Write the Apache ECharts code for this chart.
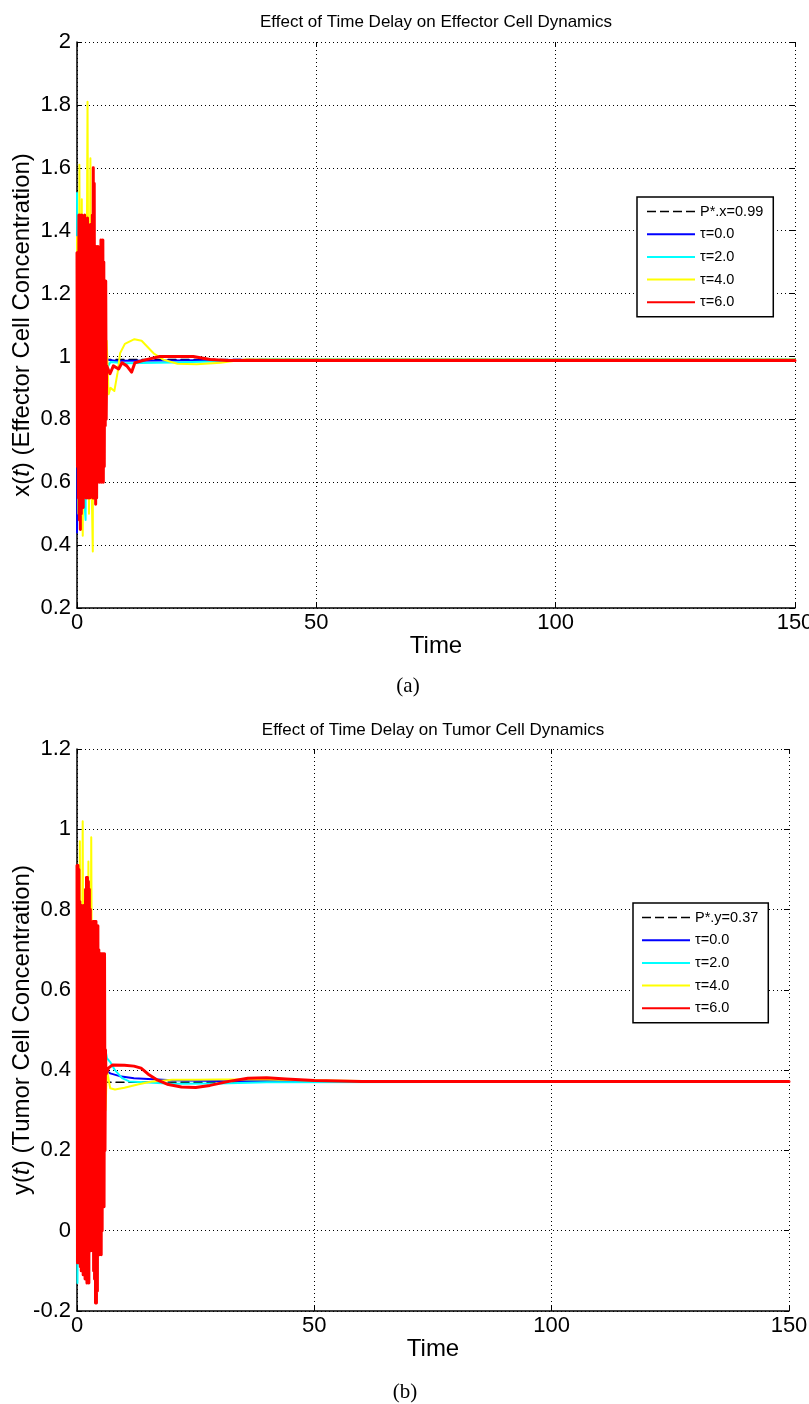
<!DOCTYPE html>
<html><head><meta charset="utf-8">
<script src="https://cdn.jsdelivr.net/npm/echarts@6/dist/echarts.min.js"></script>
<style>html,body{margin:0;padding:0;background:#fff}#c{width:809px;height:1404px}</style>
</head><body><div id="c"></div>
<script>
// ---------- text ----------
const titleA = 'Effect of Time Delay on Effector Cell Dynamics';
const titleB = 'Effect of Time Delay on Tumor Cell Dynamics';
const namesA = ['P*.x=0.99', 'τ=0.0', 'τ=2.0', 'τ=4.0', 'τ=6.0'];
const namesB = ['P*.y=0.37', 'τ=0.0', 'τ=2.0', 'τ=4.0', 'τ=6.0'];
const colors = ['#000000', '#0000ff', '#00ffff', '#ffff00', '#ff0000'];
const timeTicks = [0, 50, 100, 150];
const xTicksA = [0.2, 0.4, 0.6, 0.8, 1, 1.2, 1.4, 1.6, 1.8, 2];
const yTicksB = [-0.2, 0, 0.2, 0.4, 0.6, 0.8, 1, 1.2];

// ---------- panel (a): x(t) ----------
const eqA = [[0, 0.99], [150, 0.99]];
const xTau0 = [[0,0.44],[0.3,1.30],[0.6,0.60],[0.9,1.20],[1.2,0.75],[1.5,1.10],[2,0.85],[2.5,1.05],[3,0.95],[3.5,1.0],[4,0.98],[6,0.99],[8,0.986],[20,0.987],[40,0.99],[150,0.99]];
const xTau2 = [[0,1.52],[0.3,0.55],[0.6,1.45],[0.9,0.60],[1.2,1.40],[1.5,0.55],[1.8,0.48],[2.0,1.35],[2.5,0.70],[3,1.25],[3.5,0.80],[4,1.15],[4.5,0.85],[5,1.05],[5.5,0.92],[6,1.0],[6.5,0.97],[7,0.982],[10,0.978],[20,0.981],[30,0.985],[40,0.99],[150,0.99]];
const xTau4 = [[0,1.38],[0.3,0.50],[0.5,1.61],[0.8,0.45],[1.0,1.50],[1.2,0.43],[1.5,1.45],[1.8,0.55],[2.2,1.81],[2.5,0.50],[2.8,1.63],[3.1,0.55],[3.3,0.38],[3.4,1.48],[3.7,0.55],[4.0,1.30],[4.3,0.62],[4.6,1.20],[5.0,0.70],[5.4,1.15],[5.8,0.80],[6.2,1.05],[6.6,0.88],[7.0,0.90],[7.8,0.89],[8.5,0.95],[9,1.01],[10,1.04],[12,1.055],[13.5,1.05],[16,1.01],[18,0.99],[21,0.977],[25,0.975],[30,0.98],[35,0.99],[150,0.99]];
const xTau6 = [[0,1.33],[0.1,0.65],[0.2,1.30],[0.3,0.55],[0.4,1.45],[0.5,0.48],[0.6,1.45],[0.7,0.45],[0.8,1.42],[0.9,0.50],[1.0,1.45],[1.1,0.58],[1.2,1.44],[1.3,0.52],[1.4,1.40],[1.5,0.56],[1.6,1.45],[1.7,0.62],[1.8,1.43],[1.9,0.55],[2.0,1.38],[2.1,0.56],[2.2,1.44],[2.3,0.55],[2.4,1.40],[2.5,0.57],[2.6,1.35],[2.7,0.55],[2.8,1.42],[2.9,0.60],[3.0,1.36],[3.1,0.56],[3.2,1.45],[3.3,0.55],[3.4,1.60],[3.5,0.55],[3.6,1.55],[3.7,0.58],[3.8,1.30],[3.9,0.53],[4.0,1.35],[4.1,0.55],[4.2,1.33],[4.3,0.60],[4.4,1.35],[4.5,0.62],[4.6,1.33],[4.7,0.60],[4.8,1.32],[4.9,0.62],[5.0,1.37],[5.1,0.60],[5.2,1.36],[5.3,0.62],[5.4,1.37],[5.5,0.60],[5.6,1.30],[5.7,0.65],[5.8,1.24],[5.9,0.78],[6.0,1.24],[6.1,0.80],[6.2,0.97],[6.9,0.945],[7.6,0.97],[8.7,0.96],[9.4,0.98],[10.4,0.97],[11.4,0.95],[12.1,0.98],[14.5,0.99],[17.3,1.0],[24.3,1.0],[27.8,0.99],[31.3,0.987],[150,0.987]];

// ---------- panel (b): y(t) ----------
const eqB = [[0, 0.37], [150, 0.37]];
const yTau0 = [[0,0.30],[0.4,0.75],[0.8,0.10],[1.2,0.65],[1.6,0.20],[2.0,0.55],[2.5,0.25],[3,0.50],[3.5,0.30],[4,0.45],[5,0.35],[6,0.40],[7,0.392],[9,0.385],[12,0.38],[15,0.378],[20,0.375],[30,0.373],[150,0.372]];
const yTau2 = [[0,0.60],[0.1,-0.13],[0.4,0.75],[0.8,-0.05],[1.2,0.70],[1.6,0.0],[2.0,0.65],[2.5,0.10],[3,0.60],[3.5,0.20],[4,0.55],[4.5,0.25],[5,0.50],[5.5,0.30],[6,0.45],[6.3,0.43],[7,0.42],[8,0.40],[9.5,0.38],[11,0.372],[14,0.37],[20,0.366],[30,0.367],[40,0.37],[150,0.372]];
const yTau4 = [[0,0.85],[0.3,0.0],[0.6,0.97],[0.9,-0.02],[1.2,1.02],[1.5,0.0],[1.8,0.85],[2.1,0.05],[2.4,0.92],[2.7,0.05],[3.0,0.98],[3.3,0.10],[3.6,0.72],[3.9,0.15],[4.2,0.65],[4.5,0.20],[4.8,0.60],[5.2,0.25],[5.6,0.50],[6.0,0.30],[6.3,0.40],[7,0.355],[8,0.352],[10,0.356],[13,0.365],[16,0.372],[20,0.376],[25,0.376],[30,0.377],[40,0.377],[48,0.375],[60,0.373],[150,0.372]];
const yTau6 = [[0,0.91],[0.1,-0.08],[0.2,0.91],[0.3,-0.08],[0.4,0.90],[0.5,-0.08],[0.6,0.82],[0.7,-0.09],[0.8,0.81],[0.9,-0.10],[1.0,0.81],[1.1,-0.10],[1.2,0.80],[1.3,-0.11],[1.4,0.81],[1.5,-0.11],[1.6,0.80],[1.7,-0.12],[1.8,0.85],[1.9,-0.11],[2.0,0.88],[2.1,-0.13],[2.2,0.88],[2.3,-0.10],[2.4,0.87],[2.5,-0.13],[2.6,0.85],[2.7,-0.03],[2.8,0.80],[2.9,-0.05],[3.0,0.70],[3.1,-0.03],[3.2,0.72],[3.3,-0.05],[3.4,0.77],[3.5,-0.10],[3.6,0.77],[3.7,-0.12],[3.8,0.77],[3.9,-0.18],[4.0,0.77],[4.1,-0.18],[4.2,0.76],[4.3,-0.15],[4.4,0.76],[4.5,-0.06],[4.6,0.70],[4.7,-0.06],[4.8,0.69],[4.9,-0.05],[5.0,0.69],[5.1,-0.06],[5.2,0.69],[5.3,0.00],[5.4,0.69],[5.5,0.06],[5.6,0.69],[5.7,0.06],[5.8,0.69],[5.9,0.20],[6.0,0.45],[6.1,0.39],[6.6,0.405],[7.5,0.413],[10,0.412],[12,0.41],[13.5,0.405],[15,0.39],[17,0.375],[19,0.365],[22,0.358],[25,0.357],[28,0.362],[32,0.372],[36,0.38],[40,0.381],[44,0.378],[50,0.374],[60,0.372],[150,0.372]];

const FONT = "'Liberation Sans', Arial, Helvetica, sans-serif";
const seriesA = [eqA, xTau0, xTau2, xTau4, xTau6];
const seriesB = [eqB, yTau0, yTau2, yTau4, yTau6];
const ICON_SOLID = 'path://M0,0h48v2h-48z';
const ICON_DASH = 'path://M0,0h9v1.5h-9zM13,0h9v1.5h-9zM26,0h9v1.5h-9zM39,0h9v1.5h-9z';

function fmt(v) { return String(Number(v.toFixed(1))); }

function mkSeries(names, datas, gi) {
  return datas.map((d, i) => ({
    type: 'line', name: names[i], data: d,
    xAxisIndex: gi, yAxisIndex: gi,
    symbol: 'none', showSymbol: false, animation: false,
    z: 2 + i,
    lineStyle: { color: colors[i], width: i === 0 ? 1.5 : (i === 4 ? 3 : 2), type: i === 0 ? [8, 5] : 'solid', join: 'round', cap: 'round' },
    itemStyle: { color: colors[i] }
  }));
}

function mkX(gi, pos, main) {
  return {
    type: 'value', gridIndex: gi, min: 0, max: 150, interval: 50, position: pos,
    name: main ? 'Time' : '', nameLocation: 'middle', nameGap: 26, nameMoveOverlap: false,
    nameTextStyle: { fontSize: 24, fontFamily: FONT, color: '#000' },
    axisLine: { show: main, onZero: false, lineStyle: { color: '#000', width: 1.5 } },
    axisTick: { show: true, inside: true, length: 5, lineStyle: { color: '#000', width: 1 } },
    axisLabel: { show: main, fontSize: 22, fontFamily: FONT, color: '#000', margin: 4, formatter: fmt },
    splitLine: { show: main, lineStyle: { color: '#000', width: 1, type: [1, 3] } }
  };
}
function mkY(gi, pos, main, min, max, nm) {
  return {
    type: 'value', gridIndex: gi, min: min, max: max, interval: 0.2, position: pos,
    name: main ? nm : '', nameLocation: 'middle', nameGap: 43, nameMoveOverlap: false,
    nameTextStyle: { fontSize: 24, fontFamily: FONT, color: '#000', rich: { i: { fontSize: 24, fontFamily: FONT, fontStyle: 'italic', color: '#000' } } },
    axisLine: { show: main, onZero: false, lineStyle: { color: '#000', width: 1.5 } },
    axisTick: { show: true, inside: true, length: 5, lineStyle: { color: '#000', width: 1 } },
    axisLabel: { show: main, fontSize: 22, fontFamily: FONT, color: '#000', margin: 6, formatter: fmt },
    splitLine: { show: main, lineStyle: { color: '#000', width: 1, type: [1, 3] } }
  };
}
function mkLegend(names, left, top, padLeft) {
  return {
    orient: 'vertical', left: left, top: top,
    data: names.map((n, i) => ({ name: n, icon: i === 0 ? ICON_DASH : ICON_SOLID, itemStyle: { color: colors[i] } })),
    itemWidth: 48, itemHeight: 14, itemGap: 7.7,
    padding: [7, 10, 7, padLeft],
    backgroundColor: '#fff', borderColor: '#000', borderWidth: 1.5, borderRadius: 0,
    textStyle: { fontSize: 14.5, fontFamily: FONT, color: '#000', lineHeight: 14 },
    selectedMode: false, z: 20
  };
}

const chart = echarts.init(document.getElementById('c'), null, { renderer: 'canvas' });
chart.setOption({
  animation: false,
  backgroundColor: '#fff',
  grid: [
    { left: 77, top: 42, width: 718, height: 566, containLabel: false, outerBoundsMode: 'none' },
    { left: 77, top: 749, width: 712, height: 562, containLabel: false, outerBoundsMode: 'none' }
  ],
  xAxis: [mkX(0, 'bottom', true), mkX(1, 'bottom', true), mkX(0, 'top', false), mkX(1, 'top', false)],
  yAxis: [
    mkY(0, 'left', true, 0.2, 2, 'x({i|t}) (Effector Cell Concentration)'),
    mkY(1, 'left', true, -0.2, 1.2, 'y({i|t}) (Tumor Cell Concentration)'),
    mkY(0, 'right', false, 0.2, 2, ''),
    mkY(1, 'right', false, -0.2, 1.2, '')
  ],
  legend: [mkLegend(namesA, 637, 197, 10), mkLegend(namesB, 633, 903, 9)],
  series: [].concat(mkSeries(namesA, seriesA, 0), mkSeries(namesB, seriesB, 1)),
  graphic: [
    { type: 'text', x: 436, y: 22, style: { text: titleA, fontSize: 17, fontFamily: FONT, fill: '#000', align: 'center', verticalAlign: 'middle' } },
    { type: 'text', x: 433, y: 730, style: { text: titleB, fontSize: 17, fontFamily: FONT, fill: '#000', align: 'center', verticalAlign: 'middle' } },
    { type: 'text', x: 408, y: 686, style: { text: '(a)', fontSize: 21, fontFamily: "'Liberation Serif', 'Times New Roman', serif", fill: '#000', align: 'center', verticalAlign: 'middle' } },
    { type: 'text', x: 405, y: 1392, style: { text: '(b)', fontSize: 21, fontFamily: "'Liberation Serif', 'Times New Roman', serif", fill: '#000', align: 'center', verticalAlign: 'middle' } }
  ]
});
</script></body></html>
